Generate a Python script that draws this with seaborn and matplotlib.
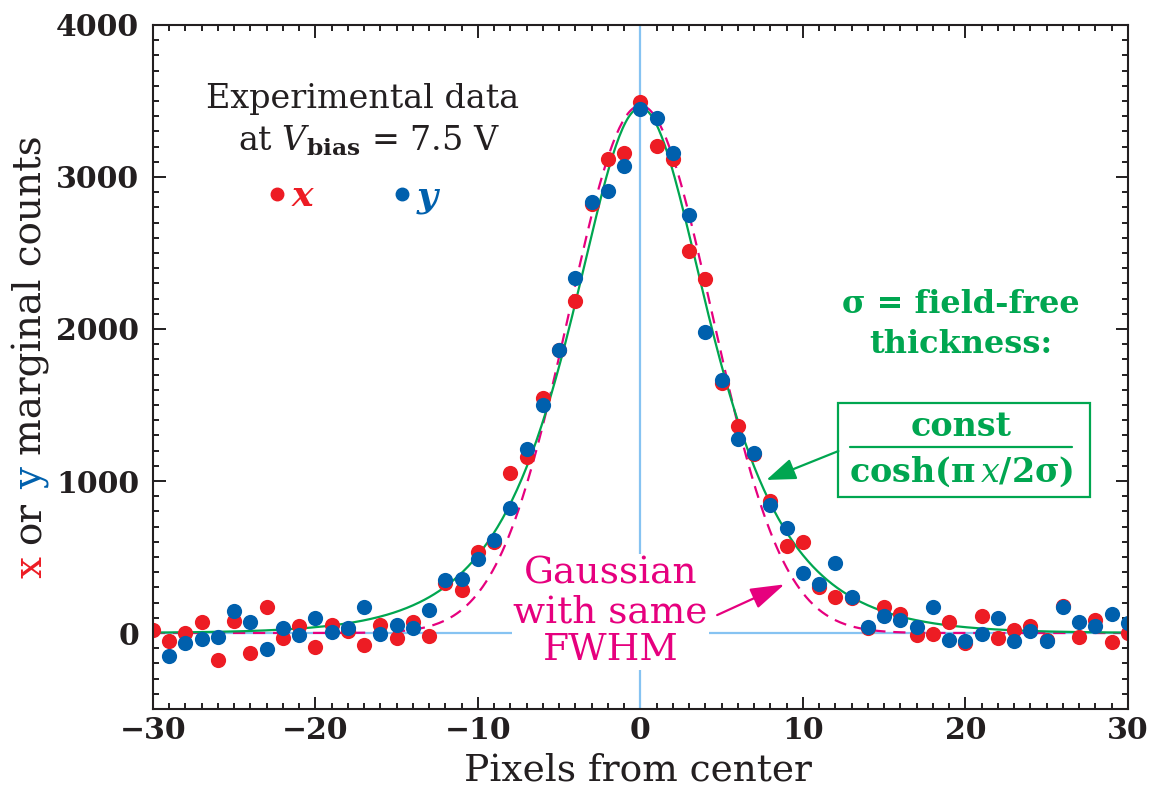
import numpy as np
import pandas as pd
import matplotlib
matplotlib.use("Agg")
import matplotlib.pyplot as plt
import seaborn as sns
from matplotlib.lines import Line2D
from matplotlib.patches import Rectangle
from matplotlib.ticker import MultipleLocator

# marginal counts
pixels_x = list(range(-30, 31))
counts_x = [20, -50, 0, 70, -180, 80, -130, 170, -30, 45,
            -95, 50, 10, -80, 55, -35, 75, -20, 330, 285,
            530, 600, 1055, 1155, 1545, 1860, 2185, 2825, 3115, 3155,
            3495,
            3205, 3115, 2510, 2330, 1645, 1365, 1175, 870, 575, 597,
            305, 240, 228, 35, 173, 125, -13, -9, 75, -68,
            112, -35, 20, 46, -45, 180, -24, 85, -57, -2]
pixels_y = list(range(-29, 31))
counts_y = [-150, -65, -40, -25, 145, 70, -105, 30, -15,
            100, 5, 35, 170, -5, 50, 30, 150, 350, 353,
            485, 615, 820, 1209, 1500, 1865, 2333, 2835, 2908, 3072,
            3445,
            3390, 3160, 2750, 1982, 1665, 1275, 1182, 840, 693, 397,
            320, 462, 239, 41, 112, 86, 41, 173, -46, -50,
            -7, 100, -50, 13, -55, 170, 75, 48, 123, 68]

# fitted curve parameters
sech_peak, sech_sigma = 3455, 6.05
gauss_peak, gauss_sd = 3470, 4.4

x_ticks = [-30, -20, -10, 0, 10, 20, 30]
x_tick_labels = ["\u221230", "\u221220", "\u221210", "0", "10", "20", "30"]
y_ticks = [0, 1000, 2000, 3000, 4000]
y_tick_labels = ["0", "1000", "2000", "3000", "4000"]

RED = "#ed1c24"
BLUE = "#0060ad"
GREEN = "#00a650"
MAGENTA = "#e6007e"
REF = "#86c3f2"
INK = "#231f20"

sns.set_theme(style="ticks")
plt.rcParams["font.family"] = ["DejaVu Serif"]
plt.rcParams["mathtext.fontset"] = "dejavuserif"

grid = np.linspace(-30, 30, 601)
curves = pd.DataFrame({
    "pixel": grid,
    "sech": sech_peak / np.cosh(np.pi * grid / (2 * sech_sigma)),
    "gauss": gauss_peak * np.exp(-grid ** 2 / (2 * gauss_sd ** 2)),
})

fig = plt.figure(figsize=(11.52, 7.9), dpi=100)
ax = fig.add_axes([0.1328, 0.1025, 0.8463, 0.8659])

ax.axhline(0, color=REF, lw=1.6, zorder=1)
ax.axvline(0, color=REF, lw=1.6, zorder=1)

sns.lineplot(data=curves, x="pixel", y="gauss", ax=ax, color=MAGENTA, lw=1.6,
             linestyle=(0, (5.5, 3.5)), zorder=3)
sns.lineplot(data=curves, x="pixel", y="sech", ax=ax, color=GREEN, lw=1.6, zorder=3)
sns.scatterplot(x=pixels_x, y=counts_x, ax=ax, color=RED, s=120, linewidth=0, zorder=4)
sns.scatterplot(x=pixels_y, y=counts_y, ax=ax, color=BLUE, s=120, linewidth=0, zorder=5)

ax.set_xlim(-30, 30)
ax.set_ylim(-500, 4000)
ax.set_xticks(x_ticks)
ax.set_xticklabels(x_tick_labels, fontfamily="DejaVu Serif", fontweight="bold",
                   fontsize=21.5, color=INK)
ax.set_yticks(y_ticks)
ax.set_yticklabels(y_tick_labels, fontfamily="DejaVu Serif", fontweight="bold",
                   fontsize=21.5, color=INK)
ax.xaxis.set_minor_locator(MultipleLocator(1))
ax.yaxis.set_minor_locator(MultipleLocator(100))
ax.tick_params(which="both", direction="in", top=True, right=True, width=1.4, color=INK)
ax.tick_params(which="major", length=9)
ax.tick_params(which="minor", length=4.5)
ax.tick_params(axis="x", pad=5)
ax.tick_params(axis="y", pad=10)
for sp in ax.spines.values():
    sp.set_linewidth(1.5)
    sp.set_color(INK)
    sp.set_zorder(6)

ax.set_xlabel("Pixels from center", fontfamily="DejaVu Serif", fontsize=27, color=INK)
ax.xaxis.label.set_va("baseline")
ax.xaxis.set_label_coords(0.497, -0.1038)
ax.set_ylabel("")

# header and legend
ax.text(0.2154, 0.878, "Experimental data", transform=ax.transAxes, ha="center",
        va="baseline", fontsize=24, color=INK)
ax.text(0.222, 0.817, r"at $V_{\mathbf{bias}}$ = 7.5 V", transform=ax.transAxes,
        ha="center", va="baseline", fontsize=24, color=INK)
handles = [Line2D([], [], marker="o", ls="none", color=RED, markersize=9),
           Line2D([], [], marker="o", ls="none", color=BLUE, markersize=9)]
leg = ax.legend(handles, ["x", "y"], ncol=2, frameon=False, loc="center",
                bbox_to_anchor=(0.205, 0.749), handlelength=0.5, handletextpad=0.15,
                columnspacing=2.2, borderpad=0,
                prop=dict(family="DejaVu Serif", style="italic", weight="bold", size=26))
for txt, c in zip(leg.get_texts(), [RED, BLUE]):
    txt.set_color(c)

# Gaussian note
ax.text(-1.85, 138, "Gaussian\nwith same\nFWHM", ha="center", va="center",
        color=MAGENTA, fontsize=27, linespacing=1.08,
        bbox=dict(facecolor="white", edgecolor="none", pad=1), zorder=2)
ax.annotate("", xy=(8.86, 320), xytext=(4.72, 118),
            arrowprops=dict(arrowstyle="-|>,head_length=0.7,head_width=0.22",
                            color=MAGENTA, lw=1.6, shrinkA=0, shrinkB=0,
                            mutation_scale=30), zorder=7)

# sech note
ax.text(0.8287, 0.5785, "\u03c3 = field-free", transform=ax.transAxes, ha="center",
        va="baseline", fontsize=23, fontweight="bold", color=GREEN)
ax.text(0.8287, 0.52, "thickness:", transform=ax.transAxes, ha="center",
        va="baseline", fontsize=23, fontweight="bold", color=GREEN)
ax.add_patch(Rectangle((0.7026, 0.31), 0.2585, 0.137, transform=ax.transAxes,
                       fill=False, edgecolor=GREEN, lw=1.6, zorder=7))
ax.plot([0.7149, 0.9426], [0.383, 0.383], transform=ax.transAxes, color=GREEN, lw=1.6)
ax.text(0.8287, 0.3996, "const", transform=ax.transAxes, ha="center", va="baseline",
        fontsize=24, fontweight="bold", color=GREEN)
ax.text(0.8287, 0.3323, "cosh(\u03c0$\\,x$/2\u03c3)", transform=ax.transAxes,
        ha="center", va="baseline", fontsize=24, fontweight="bold", color=GREEN)
ax.annotate("", xy=(7.75, 1007), xytext=(12.18, 1197),
            arrowprops=dict(arrowstyle="-|>,head_length=0.6,head_width=0.22",
                            color=GREEN, lw=1.6, shrinkA=0, shrinkB=0,
                            mutation_scale=30), zorder=7)

# y label in three colours, built piece by piece
fig.canvas.draw()
rend = fig.canvas.get_renderer()
lab_font = dict(fontfamily="DejaVu Serif", fontsize=28)


def run_len(s):
    t = fig.text(0, 0, s, rotation=90, **lab_font)
    h = t.get_window_extent(rend).height
    t.remove()
    return h


full = "x or y marginal counts"
pieces = [("x", RED, 0), ("or", INK, 2), ("y", BLUE, 5), ("marginal counts", INK, 7)]
base_y = 212.0
fig_h = fig.get_figheight() * fig.dpi
for word, col, idx in pieces:
    if idx == 0:
        start = base_y
    else:
        start = base_y + run_len(full[:idx + 1]) - run_len(full[idx])
    fig.text(0.0356, start / fig_h, word, rotation=90, rotation_mode="anchor",
             ha="left", va="baseline", color=col, **lab_font)

fig.savefig("out.png", dpi=100)
